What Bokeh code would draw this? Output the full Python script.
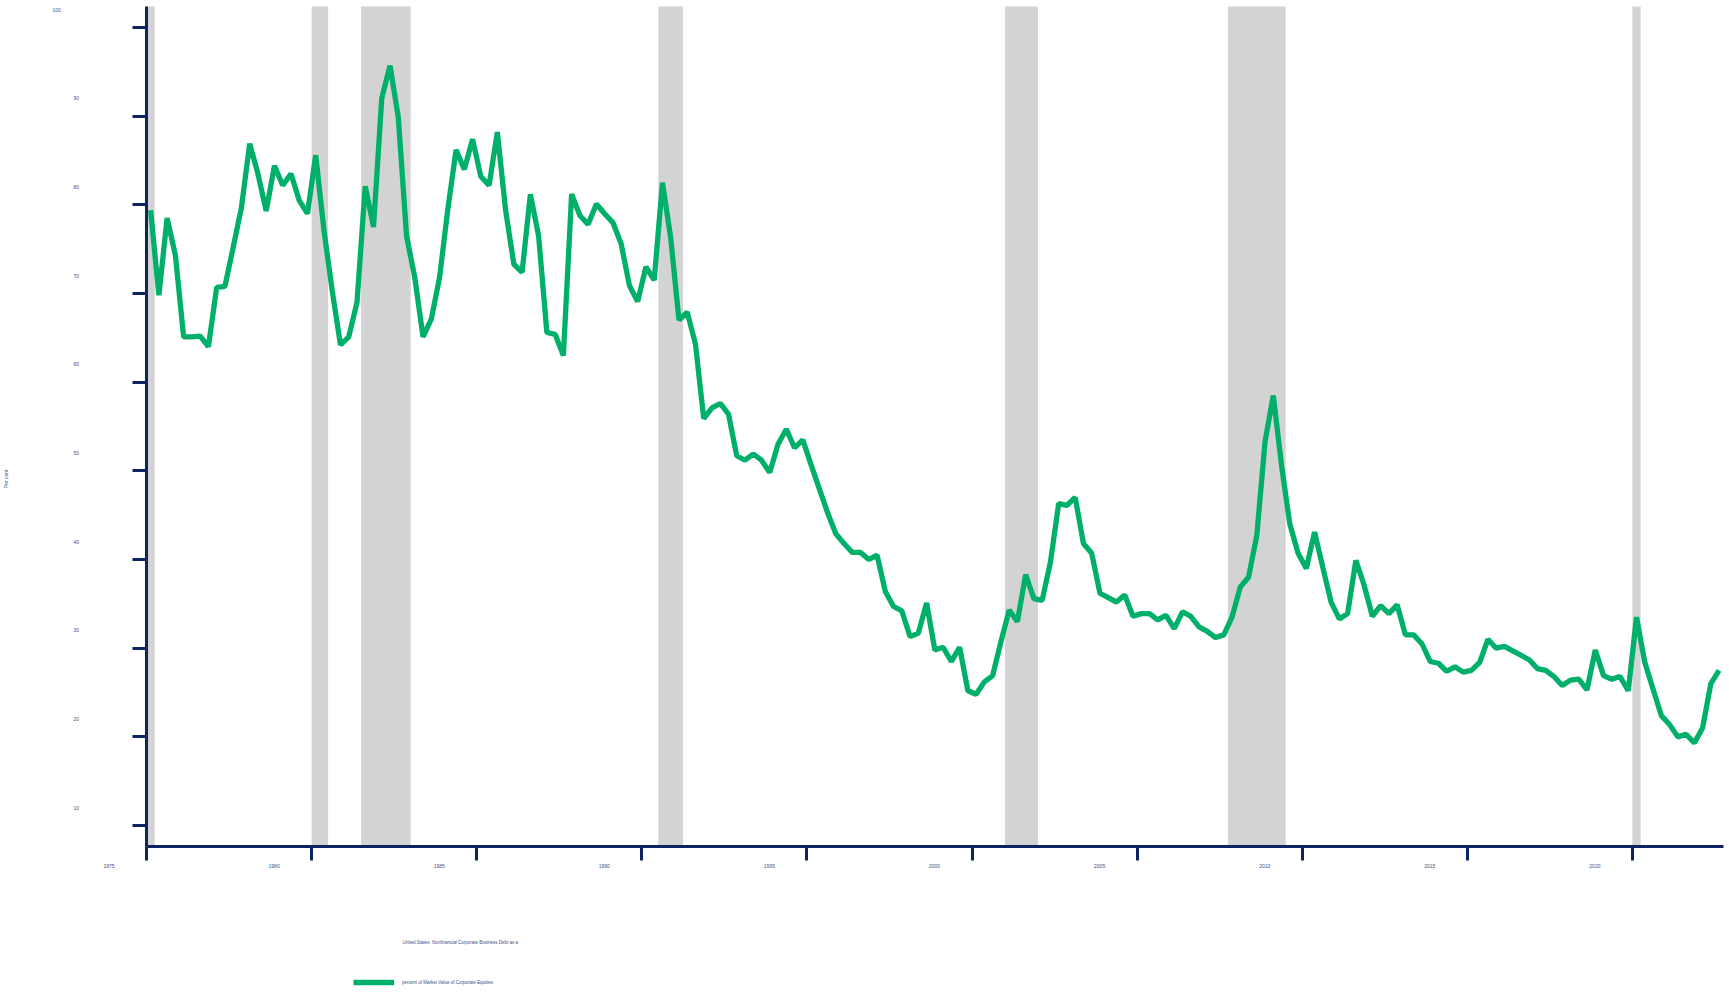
import math
import pandas as pd
from bokeh.plotting import figure
from bokeh.models import (Range1d, FixedTicker, BoxAnnotation, Label, Legend,
                          LegendItem, CustomJSTickFormatter)
from bokeh.embed import file_html
from bokeh.resources import INLINE

# ---------------- data ----------------
first_quarter = "1975Q1"
debt_pct_equities = [
    79.4, 69.8, 78.5, 74.3, 65.1, 65.1, 65.2, 64.0, 70.7, 70.8,
    75.2, 79.7, 86.9, 83.5, 79.3, 84.4, 82.2, 83.5, 80.5, 79.0,
    85.6, 77.1, 70.3, 64.2, 65.1, 69.0, 82.1, 77.5, 92.0, 95.7,
    89.9, 76.5, 71.8, 65.1, 67.1, 71.8, 79.5, 86.2, 84.0, 87.4,
    83.2, 82.2, 88.2, 79.4, 73.3, 72.4, 81.2, 76.5, 65.6, 65.4,
    63.0, 81.2, 78.8, 77.8, 80.1, 79.0, 78.0, 75.6, 70.9, 69.1,
    73.0, 71.5, 82.5, 76.3, 67.0, 67.9, 64.3, 55.9, 57.1, 57.6,
    56.4, 51.7, 51.2, 51.9, 51.2, 49.8, 53.0, 54.7, 52.6, 53.5,
    50.7, 48.0, 45.3, 42.9, 41.8, 40.8, 40.8, 40.0, 40.5, 36.4,
    34.7, 34.2, 31.3, 31.7, 35.1, 29.8, 30.1, 28.5, 30.1, 25.2,
    24.8, 26.2, 26.9, 30.7, 34.3, 33.0, 38.3, 35.6, 35.4, 39.7,
    46.3, 46.1, 47.0, 41.8, 40.7, 36.2, 35.7, 35.2, 36.0, 33.6,
    33.9, 33.9, 33.2, 33.7, 32.2, 34.1, 33.6, 32.4, 31.9, 31.2,
    31.5, 33.5, 36.9, 38.0, 42.7, 53.3, 58.5, 50.6, 44.0, 40.7,
    39.0, 43.1, 39.1, 35.2, 33.3, 33.9, 39.9, 37.1, 33.6, 34.8,
    33.9, 34.9, 31.5, 31.5, 30.5, 28.5, 28.3, 27.4, 27.9, 27.3,
    27.5, 28.4, 31.0, 30.0, 30.2, 29.7, 29.2, 28.7, 27.7, 27.5,
    26.8, 25.8, 26.4, 26.5, 25.3, 29.8, 26.9, 26.5, 26.8, 25.2,
    33.5, 28.4, 25.4, 22.4, 21.4, 20.0, 20.3, 19.3, 21.0, 26.0,
    27.5,
]
recession_start = [1975.0, 1980.0, 1981.5, 1990.5, 2001.0, 2007.75, 2020.0]
recession_end = [1975.25, 1980.5, 1983.0, 1991.25, 2002.0, 2009.5, 2020.25]
x_ticks = [1975, 1980, 1985, 1990, 1995, 2000, 2005, 2010, 2015, 2020]
y_ticks = [10, 20, 30, 40, 50, 60, 70, 80, 90, 100]
y_axis_title = "Per cent"
series_label_lines = [
    "United States: Nonfinancial Corporate Business Debt as a",
    "percent of Market Value of Corporate Equities",
]

# -------------- styling ---------------
NAVY = "#0c2461"
TEXT = "#3e5082"
GREEN = "#00b06a"
SHADE = "#d3d3d3"
FONT = "Liberation Sans"

periods = pd.period_range(first_quarter, periods=len(debt_pct_equities), freq="Q")
x_years = list(periods.year + (periods.quarter - 1) * 0.25 + 0.125)

# plotting area (axes extents) in data units
AX_X0, AX_X1 = 1975.0, 2022.758
AX_Y0, AX_Y1 = 7.632, 102.37
# whole canvas in data units
W, H = 1725, 990
PX_PER_YEAR = 33.02
PX_PER_UNIT = 8.867
X_START = AX_X0 - 146 / PX_PER_YEAR
X_END = X_START + W / PX_PER_YEAR
Y_END = 100 + 27 / PX_PER_UNIT
Y_START = Y_END - H / PX_PER_UNIT

p = figure(width=W, height=H,
           x_range=Range1d(X_START, X_END), y_range=Range1d(Y_START, Y_END),
           output_backend="svg", toolbar_location=None,
           min_border_left=0, min_border_right=0,
           min_border_top=0, min_border_bottom=0,
           background_fill_color="white", border_fill_color="white",
           outline_line_color=None)
p.grid.visible = False

for s, e in zip(recession_start, recession_end):
    p.add_layout(BoxAnnotation(left=s, right=e, top=AX_Y1, bottom=AX_Y0,
                               fill_color=SHADE, fill_alpha=1.0,
                               line_alpha=0, level="underlay"))

r = p.line(x_years, debt_pct_equities, line_color=GREEN, line_width=5.3,
           line_join="bevel")

blank = CustomJSTickFormatter(code="return ''")
axes = ((p.xaxis[0], x_ticks, AX_Y0, (AX_X0, AX_X1)),
        (p.yaxis[0], y_ticks, AX_X0, (AX_Y0, AX_Y1)))
for ax, ticks, loc, bounds in axes:
    ax.fixed_location = loc
    ax.bounds = bounds
    ax.ticker = FixedTicker(ticks=ticks)
    ax.formatter = blank
    ax.axis_line_color = NAVY
    ax.axis_line_width = 3
    ax.major_tick_line_color = NAVY
    ax.major_tick_line_width = 3
    ax.major_tick_out = 14
    ax.major_tick_in = 0
    ax.minor_tick_out = 0
    ax.minor_tick_in = 0
    ax.major_label_standoff = 0

# tick labels (offset from their ticks as in the reference)
for yr in x_ticks:
    p.add_layout(Label(x=yr, y=AX_Y0, x_offset=-37.5, y_offset=-19.5, text=str(yr),
                       text_align="center", text_baseline="middle",
                       text_font=FONT, text_font_size="5px", text_color=TEXT))
for v in y_ticks:
    p.add_layout(Label(x=AX_X0, y=v, x_offset=(-94 if v >= 100 else -73),
                       y_offset=18, text=str(v), text_align="left",
                       text_baseline="middle", text_font=FONT,
                       text_font_size="5px", text_color=TEXT))
p.add_layout(Label(x=AX_X0, y=49.1, x_offset=-141, text=y_axis_title,
                   angle=math.pi / 2, text_align="center", text_baseline="middle",
                   text_font=FONT, text_font_size="5px", text_color=TEXT))

# legend
p.add_layout(Label(x=AX_X0, y=AX_Y0, x_offset=256, y_offset=-96,
                   text=series_label_lines[0], text_align="left",
                   text_baseline="middle", text_font=FONT,
                   text_font_size="4.5px", text_color=TEXT))
legend = Legend(items=[LegendItem(label=series_label_lines[1], renderers=[r])],
                location=(353, 4), glyph_width=41, glyph_height=8,
                label_height=8, label_standoff=8, padding=0, margin=0,
                spacing=0, border_line_color=None, background_fill_alpha=0,
                label_text_font=FONT, label_text_font_size="4.5px",
                label_text_color=TEXT)
p.add_layout(legend)

open("out.html", "w").write(file_html(p, INLINE))
